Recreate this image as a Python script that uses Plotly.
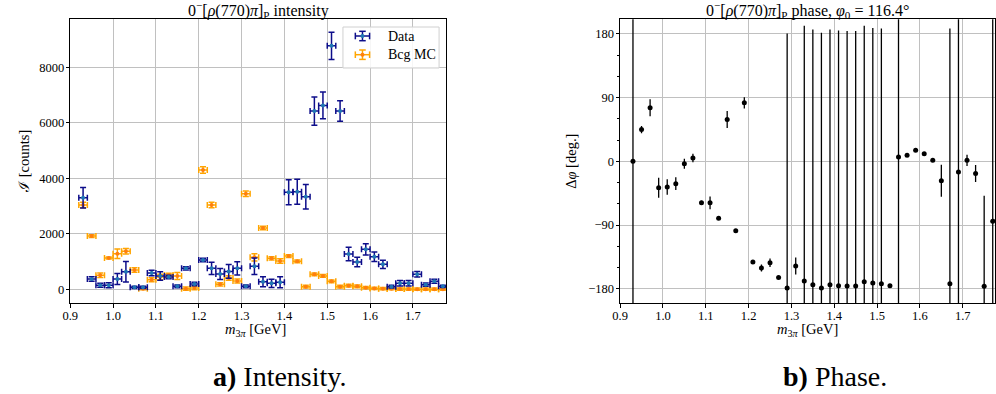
import plotly.graph_objects as go

# ---------------- data ----------------
mass = [round(0.93 + 0.02 * i, 2) for i in range(43)]  # bin centres (GeV)
bin_half = [0.01] * len(mass)

data_int = [3300, 370, 144, 144, 370, 635, 72, 72, 587, 480, 443, 108, 757, 190,
            1056, 757, 551, 645, 757, 108, 829, 275, 216, 252, 3496, 3518, 3337,
            6426, 6631, 8780, 6426, 1272, 984, 1441, 1176, 900, 94, 216, 216, 540,
            166, 288, 108]
data_err = [370, 80, 70, 90, 200, 370, 40, 40, 100, 150, 60, 50, 60, 60,
            60, 220, 200, 250, 240, 50, 300, 180, 150, 200, 450, 450, 445,
            510, 480, 490, 370, 240, 170, 200, 170, 150, 50, 100, 100, 100,
            60, 70, 40]

bcg_int = [3038, 1921, 504, 1128, 1283, 1369, 696, 20, 346, 443, 515, 480, 22, 47,
           4300, 3038, 180, 407, 299, 3446, 1153, 2209, 1117, 1020, 1200, 1009, 94,
           540, 480, 288, 94, 130, 108, 58, 30, 22, 20, 10, 10, 5, 5, 5, 5]
bcg_err = [100, 50, 80, 40, 170, 100, 80, 40, 70, 100, 60, 130, 60, 60,
           120, 100, 60, 80, 70, 100, 130, 60, 60, 80, 50, 50, 50,
           50, 50, 50, 50, 50, 50, 40, 40, 40, 40, 40, 40, 40, 40, 40, 40]

phase = [0, 44.8, 75.5, -37.3, -36.3, -31.6, -3.3, 4.7, -58.5, -58.5, -80.2, 59, -98.1, 82.5,
         -142, -150.5, -143, -164, -178.7, -147.6, -168.8, -174, -178.7, -174, -175.5, -176, -176,
         -169.8, -171.7, -172.6, -175.5, 6.1, 8.5, 15.6, 10.8, 1.4, -27.4, -172.6, -15.1, 1.4,
         -17, -176.4, -84.4]
phase_err = [450, 5, 12, 14, 11, 9, 7, 6, 3, 9, 2, 12, 2, 8,
             2, 5, 6, 2, 359, 12, 360, 360, 360, 360, 360, 360, 360,
             361, 360, 360, 2, 450, 2, 2, 2, 2, 22.6, 360, 450, 8,
             12, 128, 450]

x_ticks = [0.9, 1.0, 1.1, 1.2, 1.3, 1.4, 1.5, 1.6, 1.7]
int_ticks = [0, 2000, 4000, 6000, 8000]
phase_ticks = [-180, -90, 0, 90, 180]

W, H = 996, 394
FONT = "Liberation Serif, DejaVu Serif, serif"


def px(x):
    return x / W


def py(y):
    return 1 - y / H


fig = go.Figure()

# intensity: background MC then data
fig.add_trace(go.Scatter(
    x=mass, y=bcg_int, mode="markers", name="Bcg MC", showlegend=False,
    marker=dict(color="#ff7f0e", size=4),
    error_x=dict(type="data", array=bin_half, color="#ffa500", thickness=1.5, width=3),
    error_y=dict(type="data", array=bcg_err, color="#ffa500", thickness=1.5, width=3),
    xaxis="x", yaxis="y"))
fig.add_trace(go.Scatter(
    x=mass, y=data_int, mode="markers", name="Data", showlegend=False,
    marker=dict(color="#1f77b4", size=4),
    error_x=dict(type="data", array=bin_half, color="#0d0d8a", thickness=1.5, width=3),
    error_y=dict(type="data", array=data_err, color="#0d0d8a", thickness=1.5, width=3),
    xaxis="x", yaxis="y"))

# phase
fig.add_trace(go.Scatter(
    x=mass, y=phase, mode="markers", showlegend=False,
    marker=dict(color="black", size=5),
    error_y=dict(type="data", array=phase_err, color="black", thickness=1.3, width=0),
    xaxis="x2", yaxis="y2"))

axis_common = dict(showline=True, linecolor="black", linewidth=1, mirror=True,
                   showgrid=True, gridcolor="#c0c0c0", gridwidth=1,
                   ticks="outside", ticklen=3.5, tickcolor="black",
                   tickfont=dict(family=FONT, size=12.5, color="black"),
                   zeroline=False)

ydom = [py(303.3), py(19.3)]
fig.update_layout(
    width=W, height=H, margin=dict(l=0, r=0, t=0, b=0),
    paper_bgcolor="white", plot_bgcolor="white",
    xaxis=dict(domain=[px(62.8), px(442.3)], range=[0.9, 1.778], tickvals=x_ticks,
               ticktext=[f"{v:.1f}" for v in x_ticks], anchor="y", ticklabelstandoff=-3,
               **axis_common),
    yaxis=dict(domain=ydom, range=[-505, 9735], tickvals=int_ticks, anchor="x",
               ticklabelstandoff=-1, **axis_common),
    xaxis2=dict(domain=[px(617.7), 1.0], range=[0.9, 1.7753], tickvals=x_ticks,
                ticktext=[f"{v:.1f}" for v in x_ticks], anchor="y2", ticklabelstandoff=-3,
                **axis_common),
    yaxis2=dict(domain=ydom, range=[-200.3, 200.4], tickvals=phase_ticks, anchor="x2",
                ticklabelstandoff=-1,
                minor=dict(dtick=30, tick0=0, ticks="outside", ticklen=2, tickcolor="black"),
                **axis_common),
)

ann = []
tfont = dict(family=FONT, size=16, color="black")
ann.append(dict(x=px(252.5), y=py(10), xref="paper", yref="paper", showarrow=False,
                text="0<sup>−</sup>[<i>ρ</i>(770)<i>π</i>]<sub>P</sub> intensity", font=tfont,
                xanchor="center", yanchor="middle"))
ann.append(dict(x=px(806.8), y=py(10), xref="paper", yref="paper", showarrow=False,
                text="0<sup>−</sup>[<i>ρ</i>(770)<i>π</i>]<sub>P</sub> phase, <i>φ</i><sub>0</sub> = 116.4°",
                font=tfont, xanchor="center", yanchor="middle"))
lfont = dict(family=FONT, size=14.5, color="black")
ann.append(dict(x=px(250), y=py(330), xref="paper", yref="paper", showarrow=False,
                text="<i>m</i><sub>3<i>π</i></sub> [GeV]", font=lfont, xanchor="center", yanchor="middle"))
ann.append(dict(x=px(806.8), y=py(330), xref="paper", yref="paper", showarrow=False,
                text="<i>m</i><sub>3<i>π</i></sub> [GeV]", font=lfont, xanchor="center", yanchor="middle"))
ann.append(dict(x=px(16), y=py(161), xref="paper", yref="paper", showarrow=False, textangle=-90,
                text="ℐ [counts]", font=lfont, xanchor="center", yanchor="middle"))
ann.append(dict(x=px(568), y=py(161), xref="paper", yref="paper", showarrow=False, textangle=-90,
                text="Δ<i>φ</i> [deg.]", font=lfont, xanchor="center", yanchor="middle"))
cfont = dict(family=FONT, size=28, color="black")
ann.append(dict(x=px(274), y=py(376), xref="paper", yref="paper", showarrow=False,
                text="<b>a)</b> Intensity.", font=cfont, xanchor="center", yanchor="middle"))
ann.append(dict(x=px(835), y=py(376), xref="paper", yref="paper", showarrow=False,
                text="<b>b)</b> Phase.", font=cfont, xanchor="center", yanchor="middle"))

# custom legend (matplotlib style errorbar glyphs)
shapes = []
shapes.append(dict(type="rect", xref="paper", yref="paper", x0=px(338), x1=px(435), y0=py(68), y1=py(27),
                   line=dict(color="#d0d0d0", width=1), fillcolor="rgba(255,255,255,0.85)", layer="above"))
for (name, yc, bar_col, dot_col) in [("Data", 36, "#0d0d8a", "#1f77b4"), ("Bcg MC", 54.7, "#ffa500", "#ff7f0e")]:
    xc = 357.7
    segs = [((xc - 7.2, yc), (xc + 7.2, yc)), ((xc, yc - 4.7), (xc, yc + 4.7)),
            ((xc - 7.2, yc - 3.3), (xc - 7.2, yc + 3.3)), ((xc + 7.2, yc - 3.3), (xc + 7.2, yc + 3.3)),
            ((xc - 3.3, yc - 4.7), (xc + 3.3, yc - 4.7)), ((xc - 3.3, yc + 4.7), (xc + 3.3, yc + 4.7))]
    for (a, b) in segs:
        shapes.append(dict(type="line", xref="paper", yref="paper", x0=px(a[0]), y0=py(a[1]),
                           x1=px(b[0]), y1=py(b[1]), line=dict(color=bar_col, width=1.5), layer="above"))
    shapes.append(dict(type="circle", xref="paper", yref="paper", x0=px(xc - 2), x1=px(xc + 2),
                       y0=py(yc + 2), y1=py(yc - 2), line=dict(width=0), fillcolor=dot_col, layer="above"))
    ann.append(dict(x=px(381.7), y=py(yc), xref="paper", yref="paper", showarrow=False, text=name,
                    font=dict(family=FONT, size=14, color="black"), xanchor="left", yanchor="middle"))

fig.update_layout(annotations=ann, shapes=shapes)
fig.write_html("out.html")
